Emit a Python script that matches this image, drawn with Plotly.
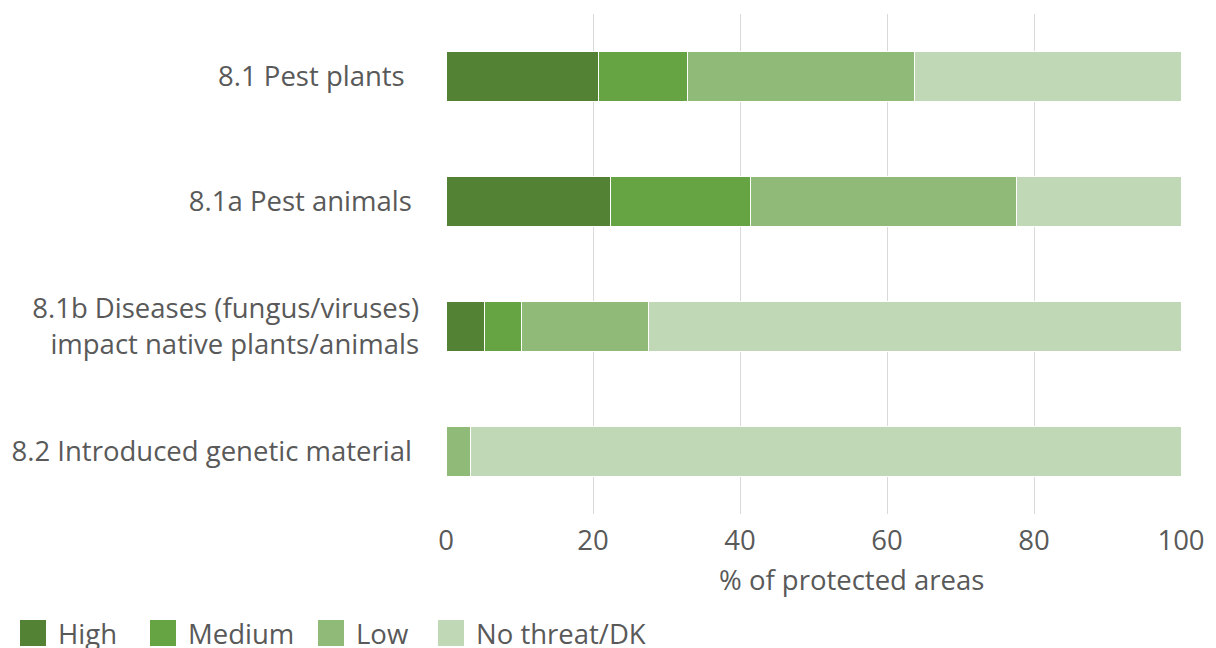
import plotly.graph_objects as go

categories = [
    "8.1 Pest plants\u00a0\u00a0",
    "8.1a Pest animals\u00a0",
    "8.1b Diseases (fungus/viruses)<br>impact native plants/animals",
    "8.2 Introduced genetic material\u00a0",
]
series_names = ["High", "Medium", "Low", "No threat/DK"]
high = [20.7, 22.4, 5.2, 0.0]
medium = [12.1, 19.0, 5.1, 0.0]
low = [30.9, 36.2, 17.2, 3.4]
no_threat = [36.3, 22.4, 72.5, 96.6]
colors = ["#548235", "#66A342", "#8FBA78", "#C0D8B6"]
x_title = "% of protected areas"

# the page body has an 8px margin, so the figure is drawn 8px in from the top-left
OFF = 8
W, H = 1216 - OFF, 648 - OFF
L, T = 446 - OFF, 14 - OFF
R = W - (1181 - OFF)
B = H - (514 - OFF)
pw, ph = W - L - R, H - T - B

fig = go.Figure()
for name, vals, col in zip(series_names, [high, medium, low, no_threat], colors):
    fig.add_trace(go.Bar(
        y=categories, x=vals, name=name, orientation="h",
        marker=dict(color=col, line=dict(color="white", width=1)),
        width=0.4, showlegend=False,
    ))

def px_x(x):
    return (x - OFF - L) / pw
def px_y(y):
    return (H - B - (y - OFF)) / ph

# custom legend (large square swatches like the reference), positions in page px
legend_x = [20, 150, 318, 438]
sw, sh, ly = 26, 26, 633
for name, col, lx in zip(series_names, colors, legend_x):
    fig.add_shape(type="rect", xref="paper", yref="paper",
                  x0=px_x(lx), x1=px_x(lx + sw),
                  y0=px_y(ly + sh / 2), y1=px_y(ly - sh / 2),
                  fillcolor=col, line=dict(width=0))
    fig.add_annotation(xref="paper", yref="paper", x=px_x(lx + sw + 10), y=px_y(ly),
                       text=name, showarrow=False, xanchor="left", yanchor="middle",
                       font=dict(family="Open Sans", size=27.5, color="#595959"))

# x-axis title (placed slightly right of centre, as in the reference)
fig.add_annotation(xref="paper", yref="paper", x=px_x(851), y=px_y(579),
                   text=x_title, showarrow=False, xanchor="center", yanchor="middle",
                   font=dict(family="Open Sans", size=27.5, color="#595959"))

font = dict(family="Open Sans", size=27.5, color="#595959")
fig.update_layout(
    barmode="stack",
    width=W, height=H,
    margin=dict(l=L, r=R, t=T, b=B),
    paper_bgcolor="white", plot_bgcolor="white",
    font=font,
    showlegend=False,
    xaxis=dict(range=[0, 100], dtick=20, showgrid=True, gridcolor="#d9d9d9",
               gridwidth=1, zeroline=False, showline=False, automargin=False,
               ticks="outside", ticklen=2, tickcolor="rgba(0,0,0,0)",
               tickfont=dict(size=27.5)),
    yaxis=dict(autorange="reversed", showgrid=False, zeroline=False, automargin=False,
               tickfont=dict(size=27.5), ticklabelstandoff=26),
)
fig.write_html("out.html")
